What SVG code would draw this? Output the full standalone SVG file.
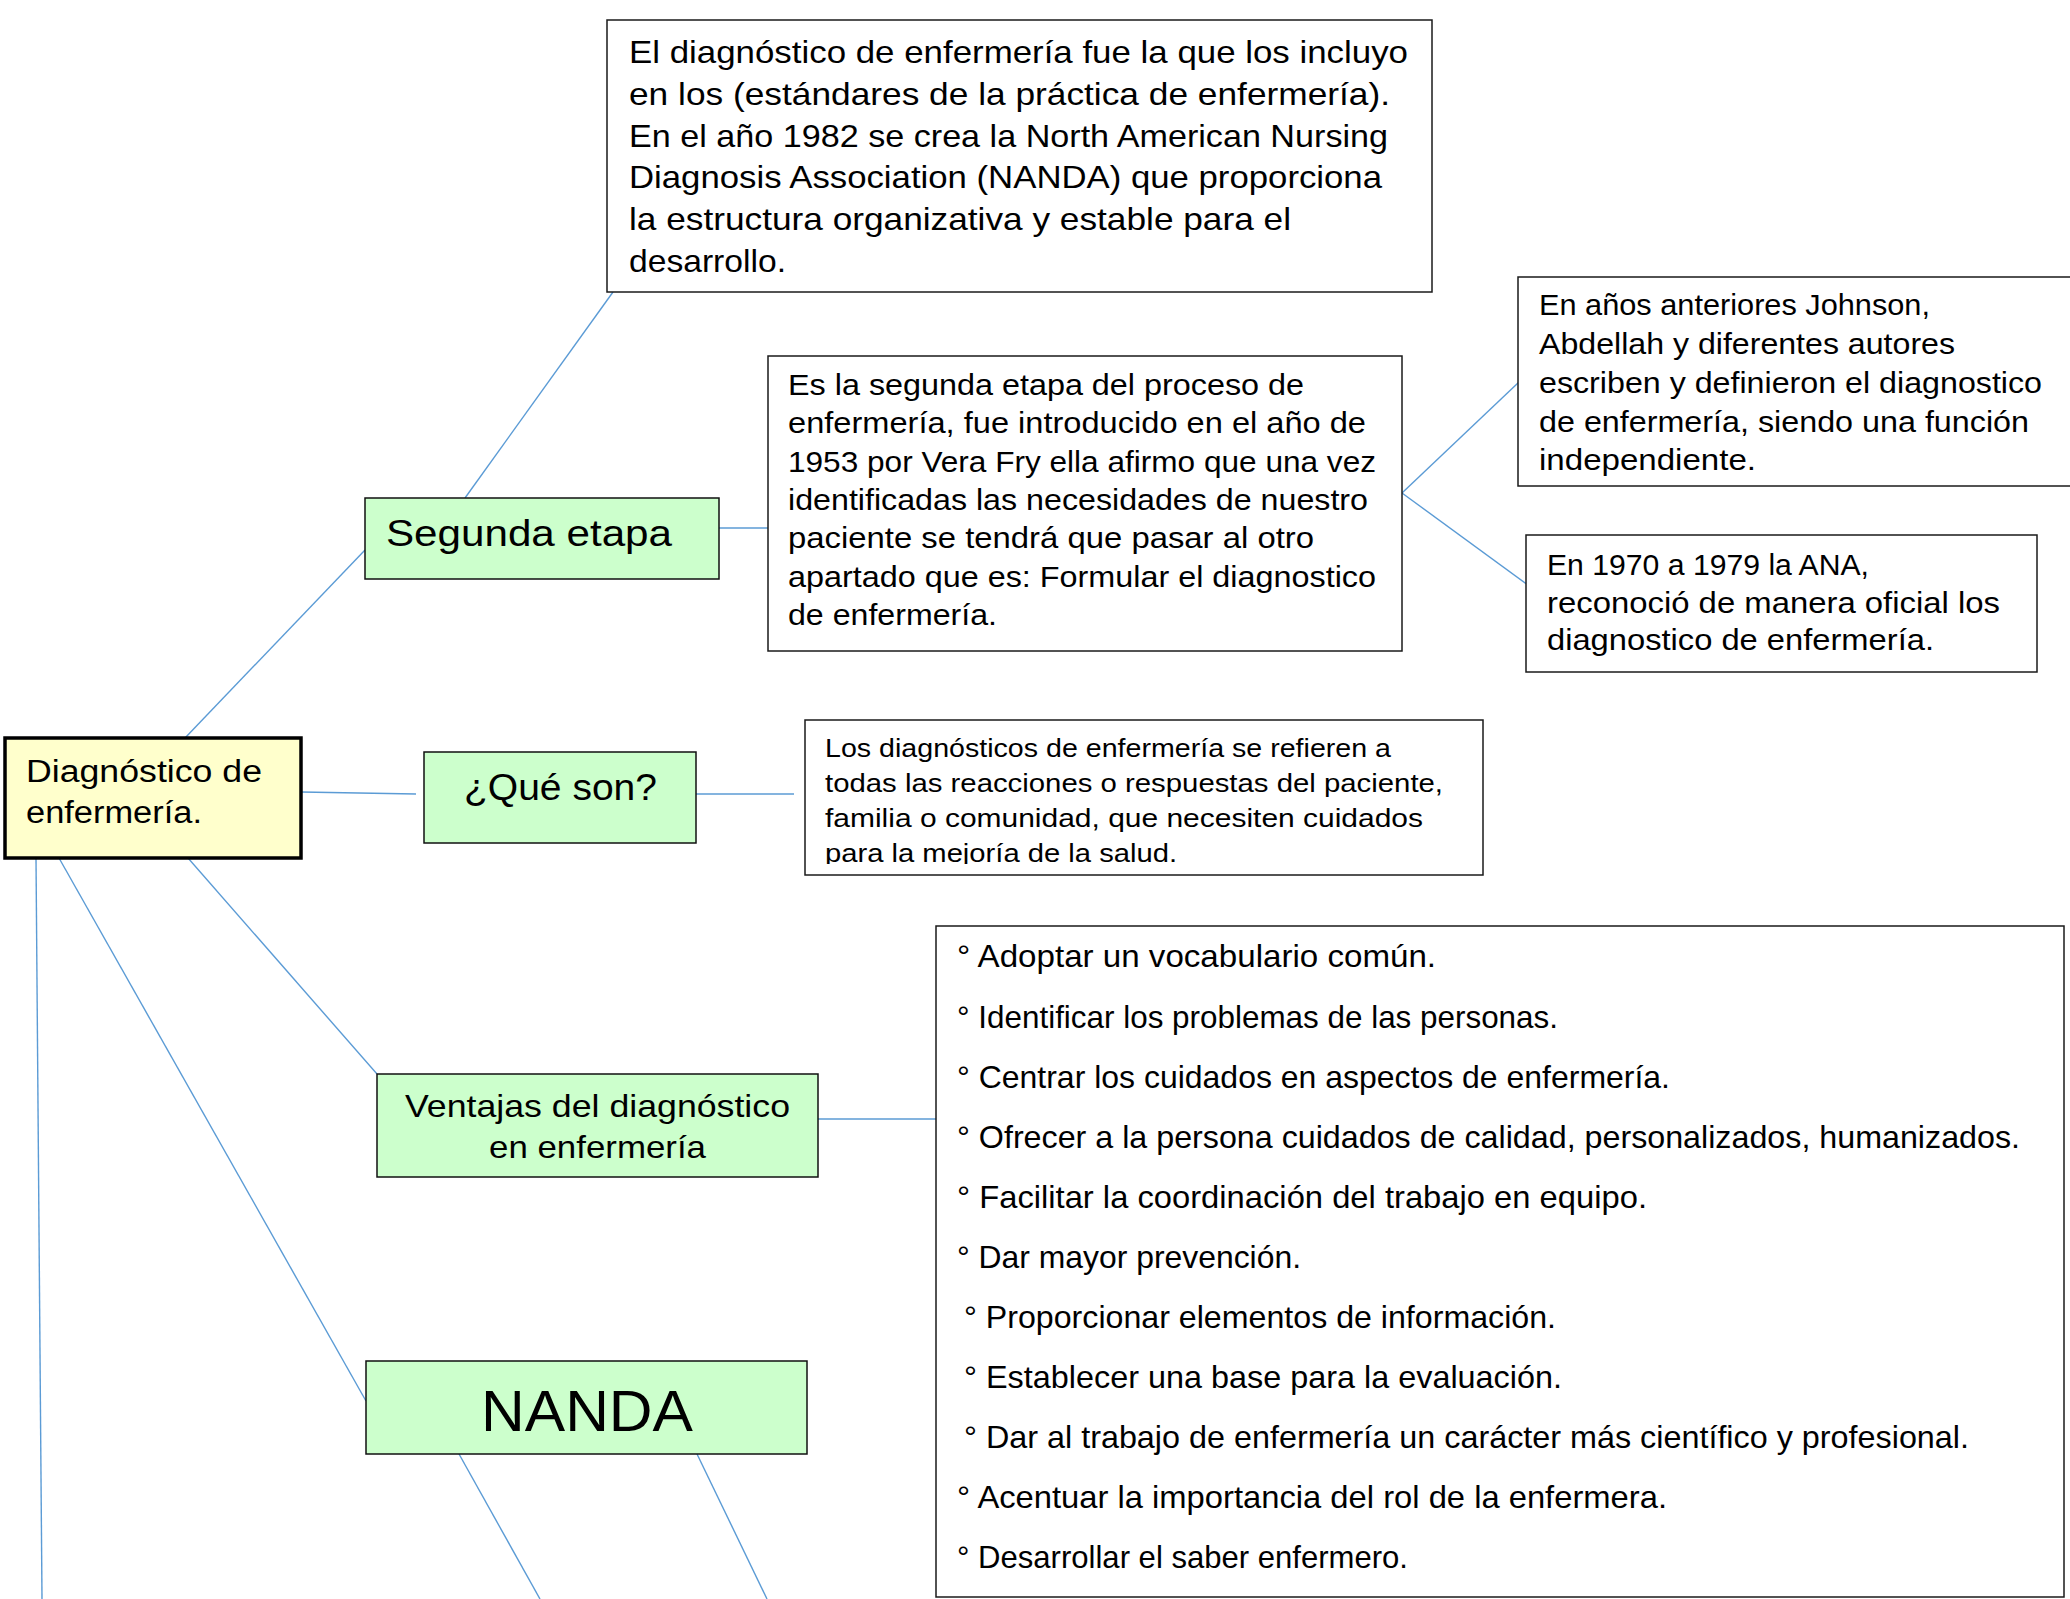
<svg xmlns="http://www.w3.org/2000/svg" width="2070" height="1599" viewBox="0 0 2070 1599">
<style>
text{font-family:"Liberation Sans",Arial,sans-serif;fill:#000;}
.box{fill:#fff;stroke:#1a1a1a;stroke-width:1.5;}
.green{fill:#ccffcc;stroke:#111;stroke-width:1.5;}
.main{fill:#ffffcc;stroke:#000;stroke-width:3.5;}
.c{stroke:#5b9bd5;stroke-width:1.4;fill:none;}
.t32{font-size:32px;}
.t29{font-size:29.5px;}
.t27{font-size:26.7px;}
</style>
<defs>
<clipPath id="clipLos"><rect x="805" y="720" width="678" height="144"/></clipPath>
</defs>
<rect width="2070" height="1599" fill="#fff"/>
<g id="connectors">
<line class="c" x1="185" y1="738" x2="365" y2="550"/>
<line class="c" x1="465" y1="498" x2="613" y2="292"/>
<line class="c" x1="719" y1="528" x2="768" y2="528"/>
<line class="c" x1="1402" y1="493" x2="1519" y2="382"/>
<line class="c" x1="1402" y1="493" x2="1532" y2="588"/>
<line class="c" x1="301" y1="792" x2="416" y2="794"/>
<line class="c" x1="696" y1="794" x2="794" y2="794"/>
<line class="c" x1="188" y1="858" x2="377" y2="1074"/>
<line class="c" x1="818" y1="1119" x2="936" y2="1119"/>
<line class="c" x1="59" y1="858" x2="366" y2="1401"/>
<line class="c" x1="36" y1="858" x2="42" y2="1599"/>
<line class="c" x1="459" y1="1454" x2="540" y2="1599"/>
<line class="c" x1="697" y1="1454" x2="767" y2="1599"/>
</g>
<g id="node-top">
<rect class="box" x="607" y="20" width="825" height="272"/>
<text class="t32" lengthAdjust="spacingAndGlyphs">
<tspan x="629" y="63" textLength="779" lengthAdjust="spacingAndGlyphs">El diagnóstico de enfermería fue la que los incluyo</tspan>
</text>
<text class="t32" x="629" y="105" textLength="761" lengthAdjust="spacingAndGlyphs">en los (estándares de la práctica de enfermería).</text>
<text class="t32" x="629" y="147" textLength="759" lengthAdjust="spacingAndGlyphs">En el año 1982 se crea la North American Nursing</text>
<text class="t32" x="629" y="188" textLength="753" lengthAdjust="spacingAndGlyphs">Diagnosis Association (NANDA) que proporciona</text>
<text class="t32" x="629" y="230" textLength="662" lengthAdjust="spacingAndGlyphs">la estructura organizativa y estable para el</text>
<text class="t32" x="629" y="272" textLength="157" lengthAdjust="spacingAndGlyphs">desarrollo.</text>
</g>
<g id="node-segunda">
<rect class="green" x="365" y="498" width="354" height="81"/>
<text x="386" y="546" font-size="37" textLength="286" lengthAdjust="spacingAndGlyphs">Segunda etapa</text>
</g>
<g id="node-es-la-segunda">
<rect class="box" x="768" y="356" width="634" height="295"/>
<text class="t29" x="788" y="395" textLength="516" lengthAdjust="spacingAndGlyphs">Es la segunda etapa del proceso de</text>
<text class="t29" x="788" y="433" textLength="578" lengthAdjust="spacingAndGlyphs">enfermería, fue introducido en el año de</text>
<text class="t29" x="788" y="472" textLength="588" lengthAdjust="spacingAndGlyphs">1953 por Vera Fry ella afirmo que una vez</text>
<text class="t29" x="788" y="510" textLength="580" lengthAdjust="spacingAndGlyphs">identificadas las necesidades de nuestro</text>
<text class="t29" x="788" y="548" textLength="526" lengthAdjust="spacingAndGlyphs">paciente se tendrá que pasar al otro</text>
<text class="t29" x="788" y="587" textLength="588" lengthAdjust="spacingAndGlyphs">apartado que es: Formular el diagnostico</text>
<text class="t29" x="788" y="625" textLength="209" lengthAdjust="spacingAndGlyphs">de enfermería.</text>
</g>
<g id="node-anteriores">
<rect class="box" x="1518" y="277" width="570" height="209"/>
<text class="t29" x="1539" y="315" textLength="391" lengthAdjust="spacingAndGlyphs">En años anteriores Johnson,</text>
<text class="t29" x="1539" y="354" textLength="416" lengthAdjust="spacingAndGlyphs">Abdellah y diferentes autores</text>
<text class="t29" x="1539" y="393" textLength="503" lengthAdjust="spacingAndGlyphs">escriben y definieron el diagnostico</text>
<text class="t29" x="1539" y="432" textLength="490" lengthAdjust="spacingAndGlyphs">de enfermería, siendo una función</text>
<text class="t29" x="1539" y="470" textLength="217" lengthAdjust="spacingAndGlyphs">independiente.</text>
</g>
<g id="node-ana">
<rect class="box" x="1526" y="535" width="511" height="137"/>
<text class="t29" x="1547" y="575" textLength="322" lengthAdjust="spacingAndGlyphs">En 1970 a 1979 la ANA,</text>
<text class="t29" x="1547" y="613" textLength="453" lengthAdjust="spacingAndGlyphs">reconoció de manera oficial los</text>
<text class="t29" x="1547" y="650" textLength="387" lengthAdjust="spacingAndGlyphs">diagnostico de enfermería.</text>
</g>
<g id="node-main">
<rect class="main" x="5" y="738" width="296" height="120"/>
<text x="26" y="782" font-size="31" textLength="236" lengthAdjust="spacingAndGlyphs">Diagnóstico de</text>
<text x="26" y="823" font-size="31" textLength="176" lengthAdjust="spacingAndGlyphs">enfermería.</text>
</g>
<g id="node-que-son">
<rect class="green" x="424" y="752" width="272" height="91"/>
<text x="464" y="800" font-size="37" textLength="193" lengthAdjust="spacingAndGlyphs">¿Qué son?</text>
</g>
<g id="node-los-diagnosticos">
<rect class="box" x="805" y="720" width="678" height="155"/>
<g clip-path="url(#clipLos)">
<text class="t27" x="825" y="757" textLength="566" lengthAdjust="spacingAndGlyphs">Los diagnósticos de enfermería se refieren a</text>
<text class="t27" x="825" y="792" textLength="618" lengthAdjust="spacingAndGlyphs">todas las reacciones o respuestas del paciente,</text>
<text class="t27" x="825" y="827" textLength="598" lengthAdjust="spacingAndGlyphs">familia o comunidad, que necesiten cuidados</text>
<text class="t27" x="825" y="862" textLength="352" lengthAdjust="spacingAndGlyphs">para la mejoría de la salud.</text>
</g>
</g>
<g id="node-ventajas">
<rect class="green" x="377" y="1074" width="441" height="103"/>
<text x="405" y="1117" font-size="32" textLength="385" lengthAdjust="spacingAndGlyphs">Ventajas del diagnóstico</text>
<text x="489" y="1158" font-size="32" textLength="217" lengthAdjust="spacingAndGlyphs">en enfermería</text>
</g>
<g id="node-lista">
<rect class="box" x="936" y="926" width="1128" height="671"/>
<text class="t32" x="957" y="967" textLength="479" lengthAdjust="spacingAndGlyphs">° Adoptar un vocabulario común.</text>
<text class="t32" x="957" y="1028" textLength="601" lengthAdjust="spacingAndGlyphs">° Identificar los problemas de las personas.</text>
<text class="t32" x="957" y="1088" textLength="713" lengthAdjust="spacingAndGlyphs">° Centrar los cuidados en aspectos de enfermería.</text>
<text class="t32" x="957" y="1148" textLength="1063" lengthAdjust="spacingAndGlyphs">° Ofrecer a la persona cuidados de calidad, personalizados, humanizados.</text>
<text class="t32" x="957" y="1208" textLength="690" lengthAdjust="spacingAndGlyphs">° Facilitar la coordinación del trabajo en equipo.</text>
<text class="t32" x="957" y="1268" textLength="344" lengthAdjust="spacingAndGlyphs">° Dar mayor prevención.</text>
<text class="t32" x="964" y="1328" textLength="592" lengthAdjust="spacingAndGlyphs">° Proporcionar elementos de información.</text>
<text class="t32" x="964" y="1388" textLength="598" lengthAdjust="spacingAndGlyphs">° Establecer una base para la evaluación.</text>
<text class="t32" x="964" y="1448" textLength="1005" lengthAdjust="spacingAndGlyphs">° Dar al trabajo de enfermería un carácter más científico y profesional.</text>
<text class="t32" x="957" y="1508" textLength="710" lengthAdjust="spacingAndGlyphs">° Acentuar la importancia del rol de la enfermera.</text>
<text class="t32" x="957" y="1568" textLength="451" lengthAdjust="spacingAndGlyphs">° Desarrollar el saber enfermero.</text>
</g>
<g id="node-nanda">
<rect class="green" x="366" y="1361" width="441" height="93"/>
<text x="481" y="1431" font-size="58" textLength="212" lengthAdjust="spacingAndGlyphs">NANDA</text>
</g>
</svg>
